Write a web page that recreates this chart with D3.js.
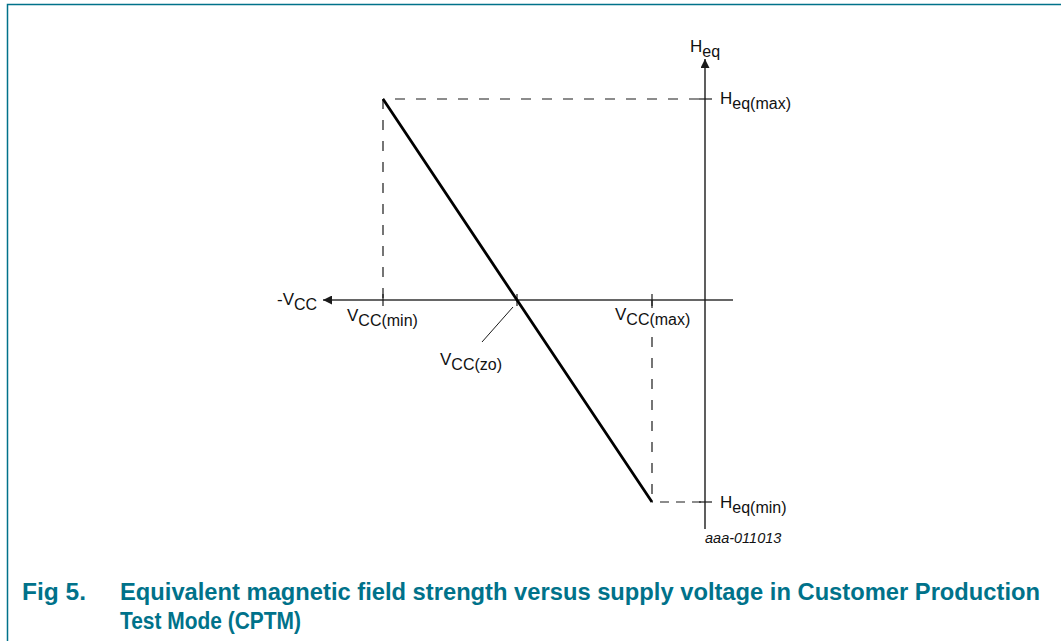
<!DOCTYPE html>
<html>
<head>
<meta charset="utf-8">
<script src="https://cdn.jsdelivr.net/npm/d3@7"></script>
<style>
  body { margin: 0; background: #fff; }
  svg { display: block; font-family: "Liberation Sans", Arial, sans-serif; }
</style>
</head>
<body>
<div id="chart"></div>
<script>
// schematic values: supply voltage (origin at the Heq axis) and field strength
const vccNames = ["CC(min)", "CC(zo)", "CC(max)"]
const vccValues = [-3.22, -1.88, -0.53]
const heqNames = ["eq(max)", "eq(min)"]
const heqValues = [2.01, -2.02]
const lineVcc = [-3.22, -1.88, -0.53]
const lineHeq = [2.01, 0, -2.02]
const captionLines = [
  "Equivalent magnetic field strength versus supply voltage in Customer Production",
  "Test Mode (CPTM)"
]
const figLabel = "Fig 5."
const figCode = "aaa-011013"

const width = 1061
const height = 641
const teal = "#00728a"
const ink = "#1a1a1a"

const x = d3.scaleLinear().domain([-3.82, 0.28]).range([323, 733])
const y = d3.scaleLinear().domain([2.41, -2.29]).range([59, 529])

const svg = d3.select("#chart").append("svg")
  .attr("width", width)
  .attr("height", height)

// frame
svg.append("path")
  .attr("d", `M${width},4.5 H7.5 V${height}`)
  .attr("fill", "none")
  .attr("stroke", teal)
  .attr("stroke-width", 1.5)

svg.append("defs").append("marker")
  .attr("id", "arrow")
  .attr("viewBox", "0 0 10 10")
  .attr("refX", 10).attr("refY", 5)
  .attr("markerWidth", 9).attr("markerHeight", 9)
  .attr("markerUnits", "userSpaceOnUse")
  .attr("orient", "auto")
  .append("path")
    .attr("d", "M0,0 L10,5 L0,10 Z")
    .attr("fill", ink)

const g = svg.append("g")

// axes
g.append("line")
  .attr("x1", x(0.28)).attr("x2", x(-3.82))
  .attr("y1", y(0)).attr("y2", y(0))
  .attr("stroke", "#333").attr("stroke-width", 1.4)
  .attr("marker-end", "url(#arrow)")

g.append("line")
  .attr("x1", x(0)).attr("x2", x(0))
  .attr("y1", y(-2.29)).attr("y2", y(2.41))
  .attr("stroke", ink).attr("stroke-width", 1.4)
  .attr("marker-end", "url(#arrow)")

// dashed guides
const dash = "10,11"
g.append("line")
  .attr("x1", x(vccValues[0])).attr("x2", x(vccValues[0]))
  .attr("y1", y(heqValues[0])).attr("y2", y(0))
  .attr("stroke", ink).attr("stroke-width", 1.2).attr("stroke-dasharray", dash)
g.append("line")
  .attr("x1", x(vccValues[0])).attr("x2", x(0))
  .attr("y1", y(heqValues[0])).attr("y2", y(heqValues[0]))
  .attr("stroke", ink).attr("stroke-width", 1.2).attr("stroke-dasharray", dash)
  .attr("stroke-dashoffset", -12)
// upper stub above the Vcc(max) label, then the rest below it
g.append("line")
  .attr("x1", x(vccValues[2])).attr("x2", x(vccValues[2]))
  .attr("y1", y(0)).attr("y2", y(0) + 8)
  .attr("stroke", ink).attr("stroke-width", 1.2)
g.append("line")
  .attr("x1", x(vccValues[2])).attr("x2", x(vccValues[2]))
  .attr("y1", y(0) + 37).attr("y2", y(heqValues[1]))
  .attr("stroke", ink).attr("stroke-width", 1.2).attr("stroke-dasharray", dash)
g.append("line")
  .attr("x1", x(vccValues[2])).attr("x2", x(0))
  .attr("y1", y(heqValues[1])).attr("y2", y(heqValues[1]))
  .attr("stroke", ink).attr("stroke-width", 1.2).attr("stroke-dasharray", "9,7")
  .attr("stroke-dashoffset", -8)

// ticks
g.selectAll(".vtick")
  .data(vccValues)
  .enter().append("line")
    .attr("class", "vtick")
    .attr("x1", d => x(d)).attr("x2", d => x(d))
    .attr("y1", y(0) - 6).attr("y2", y(0) + 6)
    .attr("stroke", ink).attr("stroke-width", 1.2)

g.selectAll(".htick")
  .data(heqValues)
  .enter().append("line")
    .attr("class", "htick")
    .attr("x1", x(0) - 6).attr("x2", x(0) + 7)
    .attr("y1", d => y(d)).attr("y2", d => y(d))
    .attr("stroke", ink).attr("stroke-width", 1.2)

// the characteristic
const line = d3.line()
  .x(d => x(d[0]))
  .y(d => y(d[1]))

g.append("path")
  .datum(d3.zip(lineVcc, lineHeq))
  .attr("d", line)
  .attr("fill", "none")
  .attr("stroke", "#000")
  .attr("stroke-width", 2.8)

// leader for Vcc(zo)
g.append("line")
  .attr("x1", x(vccValues[1]) - 4).attr("y1", y(0) + 7)
  .attr("x2", x(vccValues[1]) - 35).attr("y2", y(0) + 42)
  .attr("stroke", ink).attr("stroke-width", 1)

function label(px, py, main, sub) {
  const t = g.append("text")
    .attr("x", px).attr("y", py)
    .attr("font-size", 17)
    .attr("fill", "#111")
  t.append("tspan").text(main)
  t.append("tspan").attr("dy", 5).attr("font-size", 16).text(sub)
  return t
}

label(x(0) - 15, 52, "H", "eq")
label(x(0) + 15, y(heqValues[0]) + 5, "H", heqNames[0])
label(x(0) + 15, y(heqValues[1]) + 6, "H", heqNames[1])
label(277, y(0) + 5, "-V", "CC")
label(x(vccValues[0]) - 36, y(0) + 21, "V", vccNames[0])
label(x(vccValues[1]) - 77, y(0) + 65, "V", vccNames[1])
label(x(vccValues[2]) - 37, y(0) + 20, "V", vccNames[2])

g.append("text")
  .attr("x", x(0)).attr("y", 543)
  .attr("font-size", 14.5)
  .attr("font-style", "italic")
  .attr("fill", "#111")
  .text(figCode)

// caption
const cap = svg.append("g")
  .attr("font-weight", "bold")
  .attr("font-size", 23)
  .attr("fill", teal)

cap.append("text")
  .attr("x", 22).attr("y", 600)
  .attr("textLength", 64)
  .attr("lengthAdjust", "spacingAndGlyphs")
  .text(figLabel)

cap.selectAll(".cap")
  .data(captionLines)
  .enter().append("text")
    .attr("class", "cap")
    .attr("x", 120)
    .attr("y", (d, i) => 600 + i * 29)
    .attr("textLength", (d, i) => i === 0 ? 920 : 181)
    .attr("lengthAdjust", "spacingAndGlyphs")
    .text(d => d)
</script>
</body>
</html>
